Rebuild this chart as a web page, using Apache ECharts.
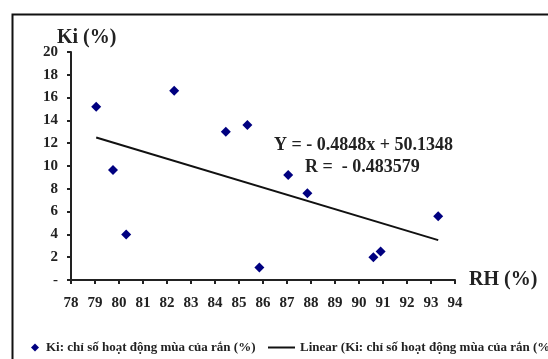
<!DOCTYPE html>
<html><head><meta charset="utf-8">
<script src="https://cdn.jsdelivr.net/npm/echarts@6/dist/echarts.min.js"></script>
<style>html,body{margin:0;padding:0;background:#fff}#c{width:548px;height:359px}</style>
</head><body><div id="c"></div>
<script>
const rhValues = [79.05, 79.75, 80.3, 82.3, 84.45, 85.35, 85.85, 87.05, 87.85, 90.6, 90.9, 93.3];
const kiValues = [15.2, 9.65, 4.0, 16.6, 13.0, 13.6, 1.1, 9.2, 7.6, 2.0, 2.5, 5.6];
const trendRH = [79.05, 93.3];
const trendKi = [12.5, 3.5];
const xTicks = {min: 78, max: 94, interval: 1};
const yTicks = {min: 0, max: 20, interval: 2};
const seriesName = 'Ki: chỉ số hoạt động mùa của rắn (%)';
const trendName = 'Linear (Ki: chỉ số hoạt động mùa của rắn (%)';
const equationText = 'Y = - 0.4848x + 50.1348';
const rText = 'R =  - 0.483579';

const FONT = '"Liberation Serif", "Times New Roman", serif';
const legendText = {fontFamily: FONT, fontSize: 13, fontWeight: 'bold', color: '#222'};
const chart = echarts.init(document.getElementById('c'));
chart.setOption({
  animation: false,
  backgroundColor: '#fff',
  textStyle: {fontFamily: FONT},
  grid: {left: 71, right: 93, top: 52, bottom: 79, containLabel: false},
  title: {text: 'Ki (%)', left: 52, top: 23, textStyle: {fontFamily: FONT, fontSize: 20, fontWeight: 'bold', color: '#222'}},
  xAxis: {
    type: 'value', min: xTicks.min, max: xTicks.max, interval: xTicks.interval,
    name: 'RH (%)', nameLocation: 'end', nameGap: 14,
    nameTextStyle: {fontFamily: FONT, fontSize: 20, fontWeight: 'bold', color: '#222', verticalAlign: 'middle', padding: [4, 0, 0, 0]},
    axisLine: {show: true, lineStyle: {color: '#222', width: 2}},
    axisTick: {show: true, inside: false, length: 4, lineStyle: {color: '#222', width: 2}},
    axisLabel: {fontFamily: FONT, fontSize: 15, fontWeight: 'bold', color: '#222', margin: 16},
    splitLine: {show: false}
  },
  yAxis: {
    type: 'value', min: yTicks.min, max: yTicks.max, interval: yTicks.interval,
    axisLine: {show: true, lineStyle: {color: '#222', width: 2}},
    axisTick: {show: true, inside: false, length: 4, lineStyle: {color: '#222', width: 2}},
    axisLabel: {fontFamily: FONT, fontSize: 15, fontWeight: 'bold', color: '#222', margin: 13,
      formatter: v => v === 0 ? '-' : String(v)},
    splitLine: {show: false}
  },
  legend: [
    {
      left: 26, top: 336, itemWidth: 12, itemHeight: 8,
      textStyle: legendText,
      data: [{name: seriesName, icon: 'path://M5,0L10,5L5,10L0,5Z', itemStyle: {color: '#000080', opacity: 1}}]
    },
    {
      left: 263, top: 336, itemWidth: 27, itemHeight: 2,
      textStyle: legendText,
      data: [{name: trendName, icon: 'rect', itemStyle: {color: '#111'}}]
    }
  ],
  graphic: [
    {type: 'rect', left: 10, top: 12, shape: {width: 700, height: 500}, style: {fill: 'none', stroke: '#111', lineWidth: 2}, silent: true, z: -1},
    {type: 'text', left: 274, top: 136, style: {text: equationText, font: 'bold 18px ' + FONT, fill: '#222'}},
    {type: 'text', left: 305, top: 158, style: {text: rText, font: 'bold 18px ' + FONT, fill: '#222'}}
  ],
  series: [
    {name: seriesName, type: 'scatter', symbol: 'diamond', symbolSize: 10,
      itemStyle: {color: '#000080', opacity: 1},
      data: rhValues.map((x, i) => [x, kiValues[i]])},
    {name: trendName, type: 'line', symbol: 'none', showSymbol: false,
      lineStyle: {color: '#111', width: 2}, itemStyle: {color: '#111'},
      data: trendRH.map((x, i) => [x, trendKi[i]])}
  ]
});
</script></body></html>
